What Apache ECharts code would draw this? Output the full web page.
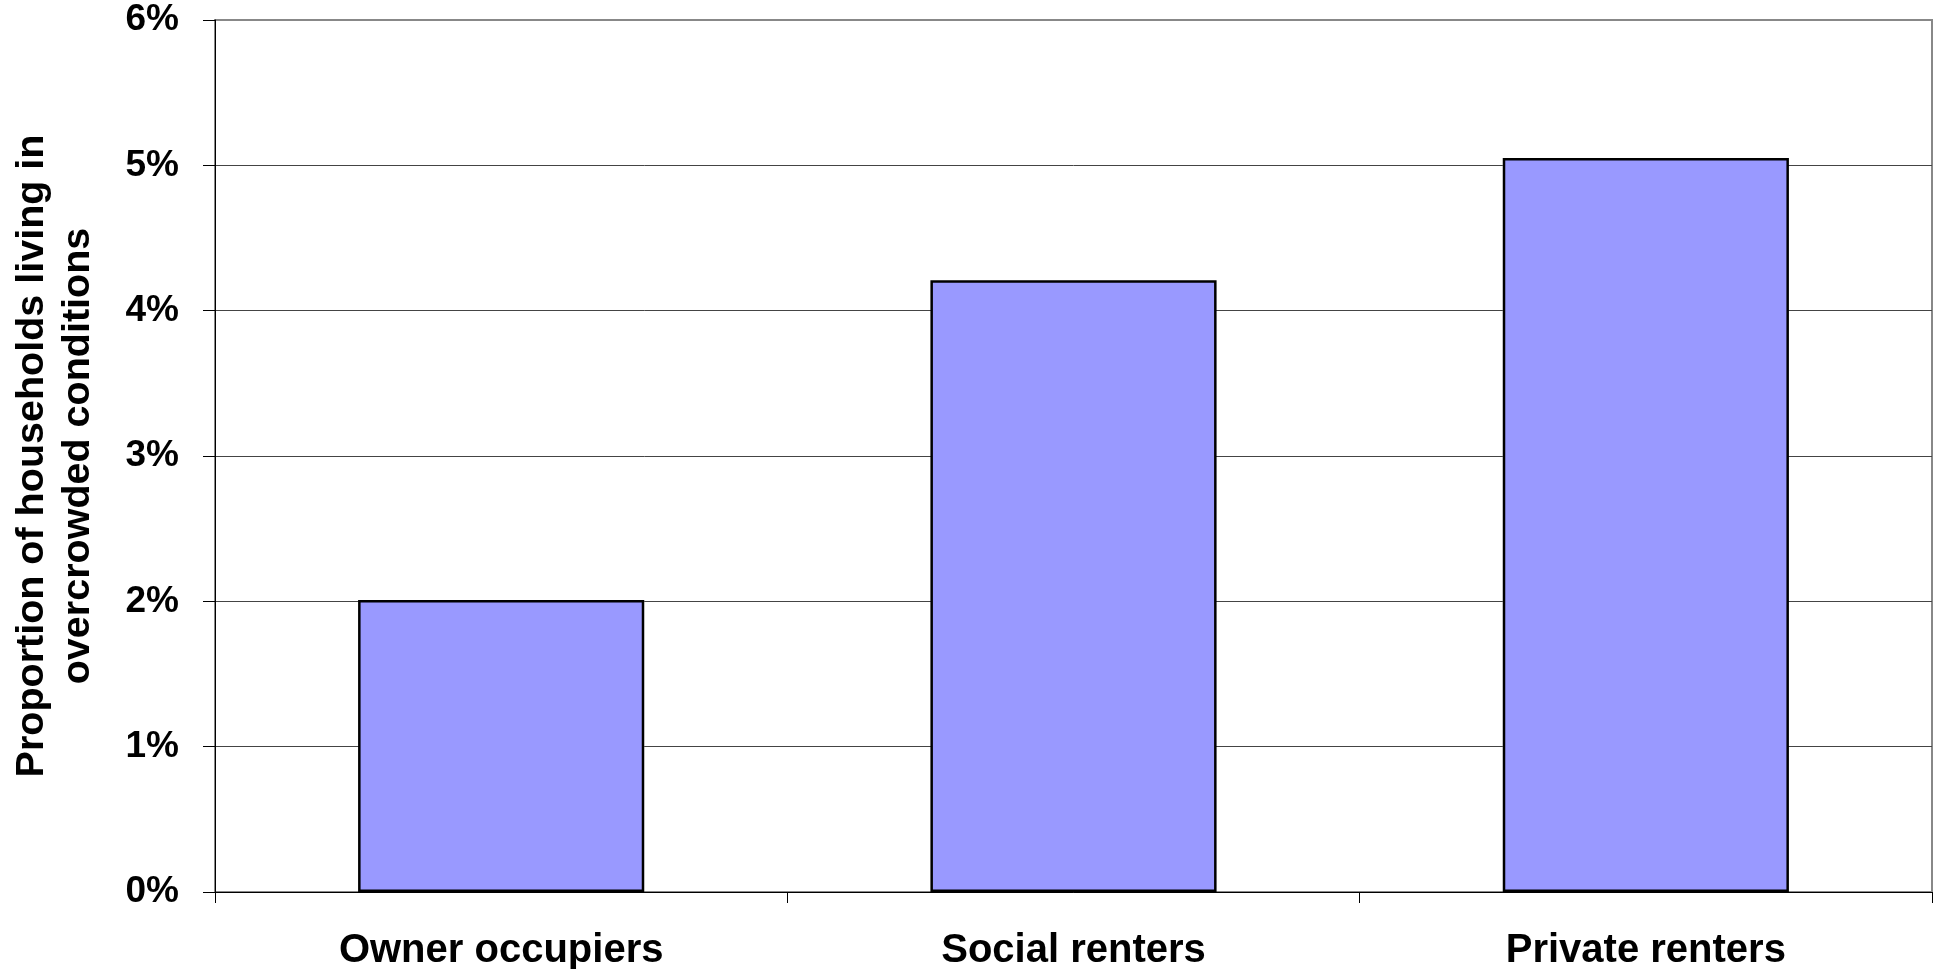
<!DOCTYPE html>
<html>
<head>
<meta charset="utf-8">
<script src="https://cdn.jsdelivr.net/npm/echarts@6/dist/echarts.min.js"></script>
<style>html,body{margin:0;padding:0;background:#fff;}#c{width:1935px;height:969px;}</style>
</head>
<body>
<div id="c"></div>
<script>
const categories = ['Owner occupiers', 'Social renters', 'Private renters'];
const values = [2.01, 4.21, 5.05];
const yTicks = [0, 1, 2, 3, 4, 5, 6];
const yAxisTitle = 'Proportion of households living in\novercrowded conditions';

const chart = echarts.init(document.getElementById('c'), null, {renderer: 'canvas'});
const font = '"Liberation Sans", Arial, sans-serif';
chart.setOption({
  animation: false,
  grid: {left: 215, right: 3, top: 20, bottom: 77, containLabel: false, outerBoundsMode: 'none', show: true, borderColor: '#888', borderWidth: 2, backgroundColor: 'transparent'},
  xAxis: {
    type: 'category',
    data: categories,
    axisLine: {show: true, lineStyle: {color: '#000', width: 1}},
    axisTick: {show: true, length: 11, alignWithLabel: false, lineStyle: {color: '#000'}},
    axisLabel: {margin: 39, fontFamily: font, fontWeight: 'bold', fontSize: 40, color: '#000'},
    splitLine: {show: false}
  },
  yAxis: {
    type: 'value',
    min: yTicks[0],
    max: yTicks[yTicks.length - 1],
    interval: 1,
    name: yAxisTitle,
    nameLocation: 'middle',
    nameRotate: 90,
    nameGap: 114,
    nameTextStyle: {fontFamily: font, fontWeight: 'bold', fontSize: 39.5, color: '#000', lineHeight: 46, align: 'center'},
    axisLine: {show: true, lineStyle: {color: '#000', width: 1}},
    axisTick: {show: true, length: 12, lineStyle: {color: '#000'}},
    axisLabel: {margin: 36, fontFamily: font, fontWeight: 'bold', fontSize: 37, color: '#000', formatter: v => v + '%'},
    splitLine: {show: true, showMaxLine: false, lineStyle: {color: '#444', width: 1}}
  },
  series: [{
    type: 'bar',
    data: values,
    barWidth: '50%',
    itemStyle: {color: '#9999FF', borderColor: '#000', borderWidth: 2.5}
  }]
});
</script>
</body>
</html>
